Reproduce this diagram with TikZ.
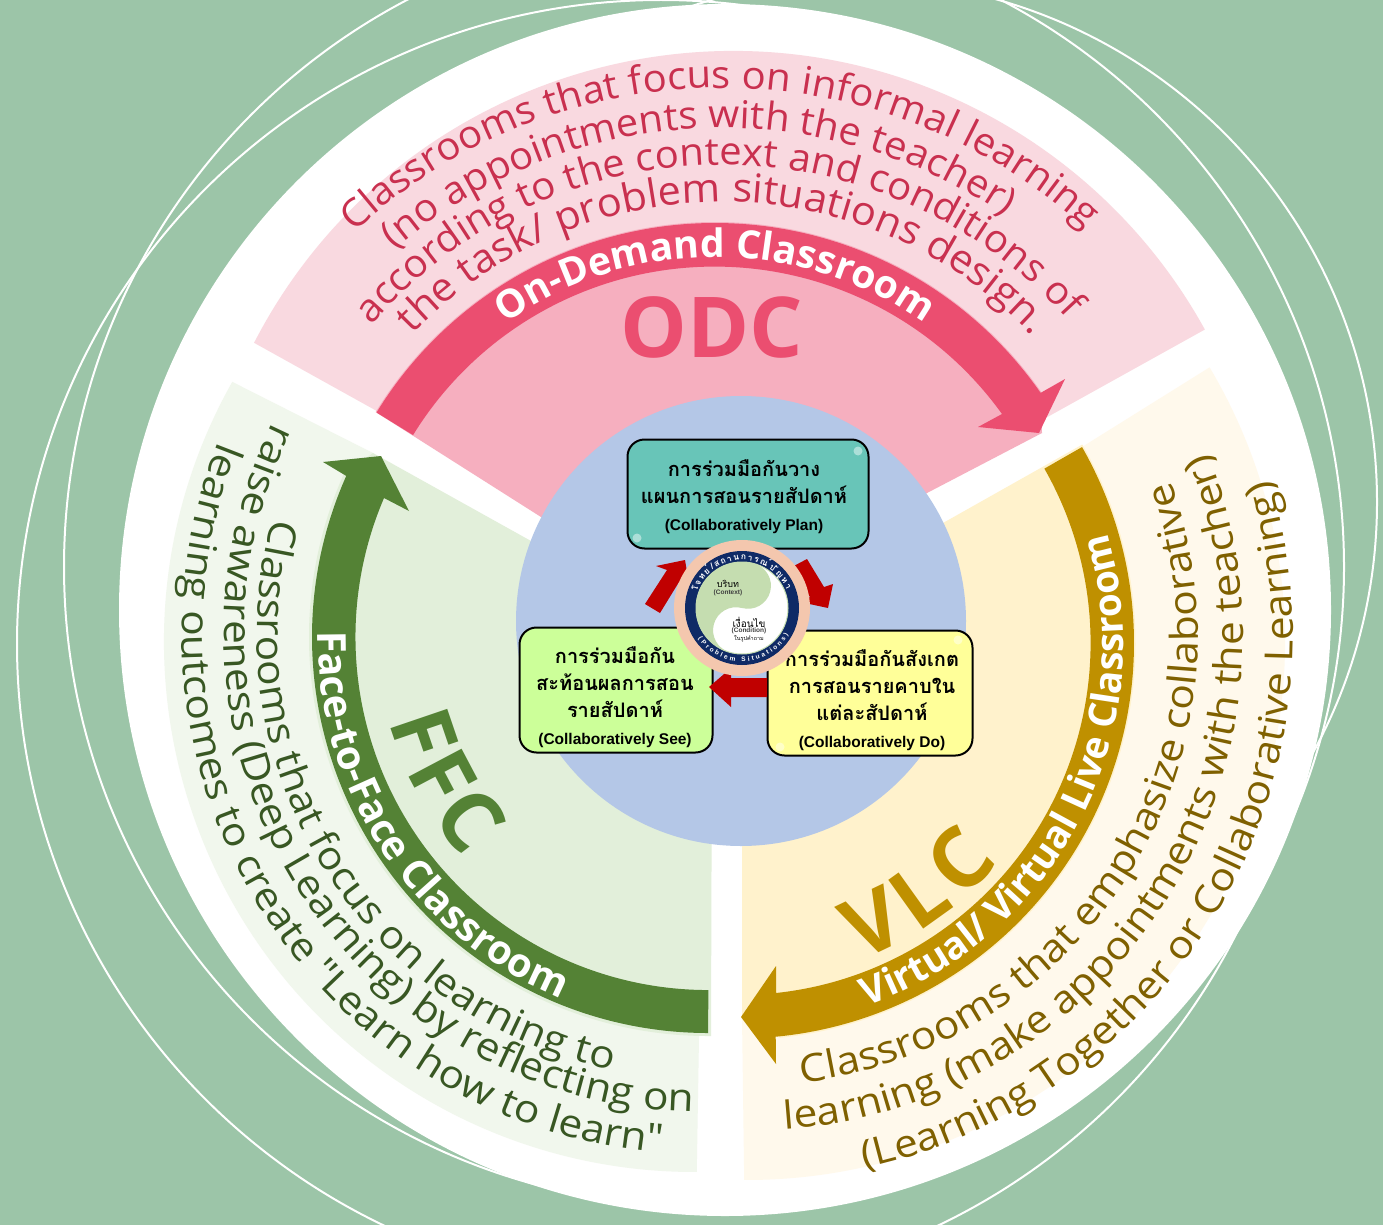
\documentclass[tikz,border=0pt]{standalone}
\usepackage{fontspec}
\usetikzlibrary{decorations.text}
\newfontfamily\osans{Open Sans}
\newfontfamily\osanswa[FakeStretch=1.04]{Open Sans}
\newfontfamily\osanswb[FakeStretch=1.1]{Open Sans}
\newfontfamily\thfont[Script=Thai]{Loma}
\newfontfamily\lat{Liberation Sans}
\definecolor{bgc}{HTML}{9CC5A8}
\definecolor{pinkpale}{HTML}{F9D9E0}
\definecolor{pinkdark}{HTML}{F6AFBF}
\definecolor{pinkarrow}{HTML}{EB4E70}
\definecolor{pinktext}{HTML}{C9304F}
\definecolor{greenpale}{HTML}{F1F7ED}
\definecolor{greendark}{HTML}{E2EFDA}
\definecolor{greenarrow}{HTML}{548235}
\definecolor{greentext}{HTML}{385723}
\definecolor{goldpale}{HTML}{FFF9EC}
\definecolor{golddark}{HTML}{FFF2CC}
\definecolor{goldarrow}{HTML}{BF9000}
\definecolor{goldtext}{HTML}{7F6000}
\definecolor{hubblue}{HTML}{B4C7E7}
\definecolor{redarrow}{HTML}{C00000}
\definecolor{teal1}{HTML}{68C5B8}
\definecolor{lime1}{HTML}{CCFF99}
\definecolor{yellow1}{HTML}{FFFF99}
\definecolor{peach}{HTML}{F4C7AE}
\definecolor{navy1}{HTML}{0F2A66}
\definecolor{yygreen}{HTML}{C5DDB0}
% #1 centre, #2 radius, #3 start angle, #4 end angle, #5 colour, #6 font, #7 text
% the path is lengthened at both ends so that centred text is never cut off
\newcommand{\arclabel}[7]{%
  \pgfmathsetmacro{\angS}{#3-0.12*(#4-#3)}%
  \pgfmathsetmacro{\angE}{#4+0.12*(#4-#3)}%
  \path[decorate,decoration={text along path,text align=center,text color=#5,
    text={|#6|#7}}]
    (#1) ++(\angS:#2) arc[start angle=\angS,end angle=\angE,radius=#2pt];}
\newcommand{\arclabelfit}[7]{%
  \path[decorate,decoration={text along path,text align=fit to path,text color=#5,
    text={|#6|#7}}]
    (#1) ++(#3:#2) arc[start angle=#3,end angle=#4,radius=#2pt];}
\newcommand{\bodyfont}{\osanswa\fontsize{38.5}{44}\selectfont}
\newcommand{\bodyfontc}{\osanswa\fontsize{39.9}{44}\selectfont}
\newcommand{\bodyfontb}{\osanswb\fontsize{38.6}{46}\selectfont}
\newcommand{\bandfont}{\osans\bfseries\fontsize{39}{42}\selectfont}
\newcommand{\bandfontf}{\osans\bfseries\fontsize{40}{44}\selectfont}
\newcommand{\bandfontv}{\osans\bfseries\fontsize{38.4}{42}\selectfont}
\newcommand{\bigfont}{\osans\bfseries\fontsize{84}{90}\selectfont}
\newcommand{\enl}{\lat\bfseries\fontsize{15.5}{27}\selectfont}
\tikzset{
  boxnode/.style={draw=black,line width=2pt,rounded corners=17pt,inner sep=0pt,align=center},
  boxtext/.style={align=center,inner sep=0pt,font=\thfont\bfseries\fontsize{20}{27}\selectfont},
  glint/.style={circle,fill=white,opacity=.45,inner sep=0pt,minimum size=9pt},
  sketchline/.style={draw=white,line width=2pt},
  redblock/.style={fill=redarrow,draw=none}
}
\begin{document}
\begin{tikzpicture}[x=1pt,y=1pt]
\useasboundingbox (0,0) rectangle (1383,-1225);
\fill[bgc] (0,0) rectangle (1383,-1225);
\coordinate (codc) at (733,-590);
\coordinate (cffc) at (694,-642);
\coordinate (cvlc) at (747,-642);
\coordinate (aodc) at (715,-620);
\coordinate (affc) at (708,-637);
\coordinate (avlc) at (738.5,-643);
\coordinate (todc) at (722,-629);
\coordinate (tffc) at (702,-634);
\coordinate (tvlc) at (748,-636);
\coordinate (hub) at (741,-621);
\coordinate (yy) at (742,-608);
% sketched circles behind the disc
\begin{scope}
\clip (0,0) rectangle (1383,-1225);
\draw[sketchline] (704,-567) circle[radius=640pt];
\draw[sketchline] (661,-644) circle[radius=644pt];
\draw[sketchline] (855,-502) circle[radius=522pt];
\end{scope}
\fill[white] (725,-610) circle[radius=606pt];
% pale sectors
\fill[pinkpale] (codc) ++(152.7:539) arc[start angle=152.7,end angle=28.9,radius=539pt]
  -- (1042,-420) -- (741,-600) -- (375,-410) -- cycle;
\fill[greenpale] (cffc) ++(150.6:530) arc[start angle=150.6,end angle=270.3,radius=530pt]
  -- (699,-1037) -- (700,-800) -- (373,-453) -- cycle;
\fill[goldpale] (cvlc) ++(30.7:538) arc[start angle=30.7,end angle=-90.3,radius=538pt]
  -- (742,-1017) -- (800,-700) -- (1082,-447) -- cycle;
% dark sectors
\fill[pinkdark] (aodc) ++(148.5:398) arc[start angle=148.5,end angle=35,radius=398pt]
  -- (1042,-433) -- (927,-493) -- (741,-600) -- (541,-517) -- cycle;
\fill[greendark] (affc) ++(270:399) arc[start angle=270,end angle=156,radius=399pt]
  -- (373,-453) -- (540,-546) -- (712,-700) -- (711,-1036) -- cycle;
\fill[golddark] (avlc) ++(-84:397) arc[start angle=-84,end angle=30,radius=397pt]
  -- (943,-523) -- (800,-650) -- (742,-700) -- (742,-1017) -- cycle;
% band arrows
\fill[pinkarrow] (aodc) ++(148.5:397) arc[start angle=148.5,end angle=34.9,radius=397pt]
  -- (1065,-379) -- (1039,-433) -- (978,-427) -- (1002,-414)
  arc[start angle=35.7,end angle=148.4,radius=354pt] -- cycle;
\fill[greenarrow] (affc) ++(270:396) arc[start angle=270,end angle=156,radius=396pt]
  -- (323,-462) -- (381,-456) -- (409,-511) -- (384,-498)
  arc[start angle=156.8,end angle=270,radius=353pt] -- cycle;
\fill[goldarrow] (avlc) ++(29.7:395.5) arc[start angle=29.7,end angle=-84.6,radius=395.5pt]
  -- (776,-1064) -- (741,-1017) -- (776,-966) -- (776,-993)
  arc[start angle=-83.9,end angle=29.7,radius=352pt] -- cycle;
% ODC texts
\arclabel{todc}{541}{132.2}{48.3}{pinktext}{\bodyfont}{Classrooms that focus on informal learning}
\arclabel{todc}{501}{131.2}{55.1}{pinktext}{\bodyfont}{(no appointments with the teacher)}
\arclabel{todc}{464}{140.2}{40.8}{pinktext}{\bodyfont}{according to the context and conditions of}
\arclabel{todc}{427}{136.7}{43}{pinktext}{\bodyfontc}{the task/ problem situations design.}
\arclabel{aodc}{363}{125}{55}{white}{\bandfont}{On-Demand Classroom}
\node[font=\bigfont,text=pinkarrow,inner sep=0pt] (odc) at (712,-327) {ODC};
% FFC texts
\arclabel{tffc}{445}{165.8}{257.5}{greentext}{\bodyfontb}{Classrooms that focus on learning to}
\arclabel{tffc}{478}{155.1}{267.7}{greentext}{\bodyfontb}{raise awareness (Deep Learning) by reflecting on}
\arclabel{tffc}{520}{159}{264.9}{greentext}{\bodyfontb}{learning outcomes to create "Learn how to learn"}
\arclabel{affc}{390}{178}{249}{white}{\bandfontf}{Face-to-Face Classroom}
\arclabelfit{affc}{330}{194.8}{222.2}{greenarrow}{\bigfont}{FFC}
% VLC texts
\arclabel{tvlc}{450}{-82.7}{19.7}{goldtext}{\bodyfontb}{Classrooms that emphasize collaborative}
\arclabel{tvlc}{495}{-85}{20.9}{goldtext}{\bodyfontb}{learning (make appointments with the teacher)}
\arclabel{tvlc}{545}{-77.5}{16.5}{goldtext}{\bodyfontb}{(Learning Together or Collaborative Learning)}
\arclabel{avlc}{385}{-70.6}{16.7}{white}{\bandfontv}{Virtual/ Virtual Live Classroom}
\arclabelfit{avlc}{340}{-69}{-40}{goldarrow}{\bigfont}{VLC}
% hub
\fill[hubblue] (hub) circle[radius=225pt];
\node[boxnode,fill=teal1,minimum width=241pt,minimum height=109pt] (boxplan) at (748,-494) {};
\node[boxnode,fill=lime1,minimum width=193pt,minimum height=125pt] (boxsee) at (616,-690) {};
\node[boxnode,fill=yellow1,minimum width=205pt,minimum height=125pt] (boxdo) at (870,-693) {};
\node[glint] at (858,-451) {};
\node[glint] at (637,-538) {};
\node[glint] at (958,-640) {};
\node[glint] at (780,-747) {};
\node[boxtext] (txtplan) at (744,-497)
  {การร่วมมือกันวาง\\ แผนการสอนรายสัปดาห์\\ {\enl (Collaboratively Plan)}};
\node[boxtext] (txtsee) at (615,-697)
  {การร่วมมือกัน\\ สะท้อนผลการสอน\\ รายสัปดาห์\\ {\enl (Collaboratively See)}};
\node[boxtext] (txtdo) at (872,-700)
  {การร่วมมือกันสังเกต\\ การสอนรายคาบใน\\ แต่ละสัปดาห์\\ {\enl (Collaboratively Do)}};
% red block arrows
\fill[redblock] (645,-604) -- (667,-570) -- (656,-566) -- (685,-560) -- (690,-590) -- (679,-582) -- (660,-613) -- cycle;
\fill[redblock] (790,-568) -- (807,-559) -- (824,-587) -- (833,-584) -- (828,-608) -- (800,-602) -- (810,-597) -- cycle;
\fill[redblock] (709,-687) -- (731,-668) -- (731,-678) -- (767,-678) -- (767,-697) -- (731,-697) -- (731,-707) -- cycle;
% yin-yang badge
\fill[peach] (yy) circle[radius=68pt];
\fill[navy1] (yy) circle[radius=57pt];
\fill[white] (yy) circle[radius=46pt];
\fill[yygreen] (yy) ++(75:46) arc[start angle=75,end angle=-105,radius=23pt]
  arc[start angle=75,end angle=255,radius=23pt]
  arc[start angle=255,end angle=75,radius=46pt] -- cycle;
\draw[yygreen,line width=1pt] (yy) circle[radius=46pt];
\path[decorate,decoration={text along path,text align=fit to path,text color=white,
  text={|\thfont\bfseries\fontsize{8.5}{10}\selectfont|โจทย์/สถานการณ์ปัญหา}}]
  (yy) ++(160:48) arc[start angle=160,end angle=22,radius=48pt];
\path[decorate,decoration={text along path,text align=fit to path,text color=white,
  text={|\lat\bfseries\fontsize{6.5}{8}\selectfont|(Problem Situations)}}]
  (yy) ++(215:53.5) arc[start angle=215,end angle=330,radius=53.5pt];
\node[font=\thfont\fontsize{9}{11}\selectfont,inner sep=0pt] (ctxa) at (728,-584) {บริบท};
\node[font=\lat\bfseries\fontsize{6.5}{8}\selectfont,inner sep=0pt,text=black!75] (ctxb) at (728,-593) {(Context)};
\node[font=\thfont\fontsize{10}{12}\selectfont,inner sep=0pt] (cona) at (749,-622) {เงื่อนไข};
\node[font=\lat\bfseries\fontsize{6.5}{8}\selectfont,inner sep=0pt,text=black!75] (conb) at (749,-631) {(Condition)};
\node[font=\thfont\fontsize{5.5}{7}\selectfont,inner sep=0pt] (conc) at (749,-639) {ในรูปคำถาม};
\end{tikzpicture}
\end{document}
